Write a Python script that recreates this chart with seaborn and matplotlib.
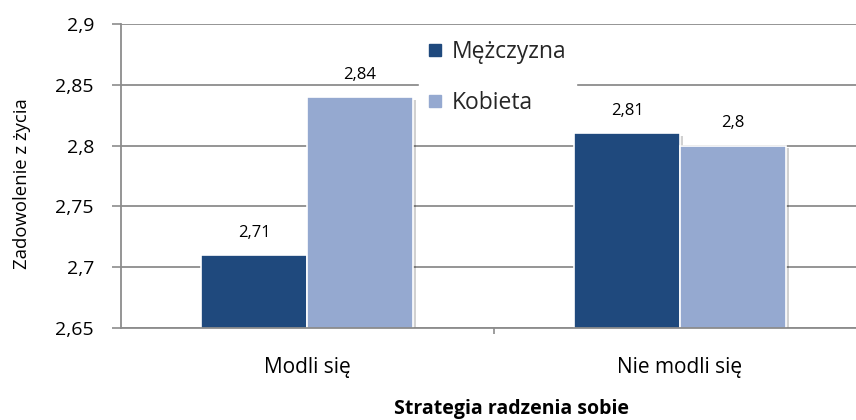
import matplotlib
matplotlib.use("Agg")
import matplotlib.pyplot as plt
import matplotlib.patheffects as pe
from matplotlib.lines import Line2D
from matplotlib.ticker import FuncFormatter
import pandas as pd
import seaborn as sns

# Data
strategie = ["Modli się", "Nie modli się"]
plec = ["Mężczyzna", "Kobieta"]
mezczyzna = [2.71, 2.81]
kobieta = [2.84, 2.80]
y_ticks = [2.65, 2.7, 2.75, 2.8, 2.85, 2.9]
kolory = ["#1F497D", "#95A9D0"]

df = pd.DataFrame({
    "Strategia": strategie * 2,
    "Płeć": [plec[0]] * len(strategie) + [plec[1]] * len(strategie),
    "Wartość": mezczyzna + kobieta,
})


def fmt(v):
    return f"{v:.2f}".rstrip("0").rstrip(".").replace(".", ",")


sns.set_theme(style="white")
plt.rcParams["font.family"] = ["Open Sans", "DejaVu Sans"]

W, H = 856, 420
fig = plt.figure(figsize=(W / 100, H / 100), dpi=100)
ax = fig.add_axes([121 / W, 92 / H, 1 - 121 / W, 304 / H])

sns.barplot(
    data=df, x="Strategia", y="Wartość", hue="Płeć",
    order=strategie, hue_order=plec, palette=kolory, saturation=1,
    width=0.568, edgecolor="white", linewidth=1.2, ax=ax, legend=False,
)

# soft drop shadow on bars
for patch in ax.patches:
    patch.set_path_effects([
        pe.SimplePatchShadow(offset=(2, -2), shadow_rgbFace="#000000", alpha=0.18),
        pe.Normal(),
    ])

ax.set_ylim(2.65, 2.9)
ax.set_xlim(-0.499, 1.472)
ax.set_yticks(y_ticks)
ax.yaxis.set_major_formatter(FuncFormatter(lambda v, _: fmt(v)))

# grid and spines
ax.set_axisbelow(True)
ax.yaxis.grid(True, color="#8C8C8C", linewidth=1.3)
for s in ["top", "right"]:
    ax.spines[s].set_visible(False)
for s in ["left", "bottom"]:
    ax.spines[s].set_color("#8C8C8C")
    ax.spines[s].set_linewidth(1.3)

ax.tick_params(axis="y", which="major", left=True, length=6.5, width=1.2,
               color="#8C8C8C", labelsize=14, pad=13, labelcolor="black")

# category labels and the separator tick between categories
ax.set_xticks(range(len(strategie)), strategie)
ax.set_xticks([0.5], minor=True)
ax.tick_params(axis="x", which="major", length=0, labelsize=15, pad=21,
               labelcolor="black")
ax.tick_params(axis="x", which="minor", bottom=True, length=4, width=1.2,
               color="#8C8C8C")

ax.set_xlabel("Strategia radzenia sobie", fontsize=14, fontweight="bold",
              color="black")
ax.xaxis.set_label_coords(0.531, -0.232)
ax.set_ylabel("Zadowolenie z życia", fontsize=13.3, color="black")
ax.yaxis.set_label_coords(-0.122, 0.475)

# value labels
for container, vals in zip(ax.containers, [mezczyzna, kobieta]):
    for bar, v in zip(container.patches, vals):
        ax.annotate(fmt(v), xy=(bar.get_x() + bar.get_width() / 2, v),
                    xytext=(0, 16), textcoords="offset points",
                    ha="center", va="center", fontsize=12, color="black")

# legend
handles = [Line2D([], [], marker="s", linestyle="none", markersize=9,
                  markerfacecolor=c, markeredgecolor=c) for c in kolory]
leg = ax.legend(handles, plec, loc="upper left", bbox_to_anchor=(0.405, 0.976),
                frameon=True, fontsize=16.5, labelspacing=1.17, handlelength=0.6,
                handletextpad=0.45, borderpad=0.4, borderaxespad=0)
leg.get_frame().set_facecolor("white")
leg.get_frame().set_edgecolor("white")
leg.get_frame().set_alpha(1)
leg.set_zorder(5)

fig.savefig("out.png", dpi=100, facecolor="white")
